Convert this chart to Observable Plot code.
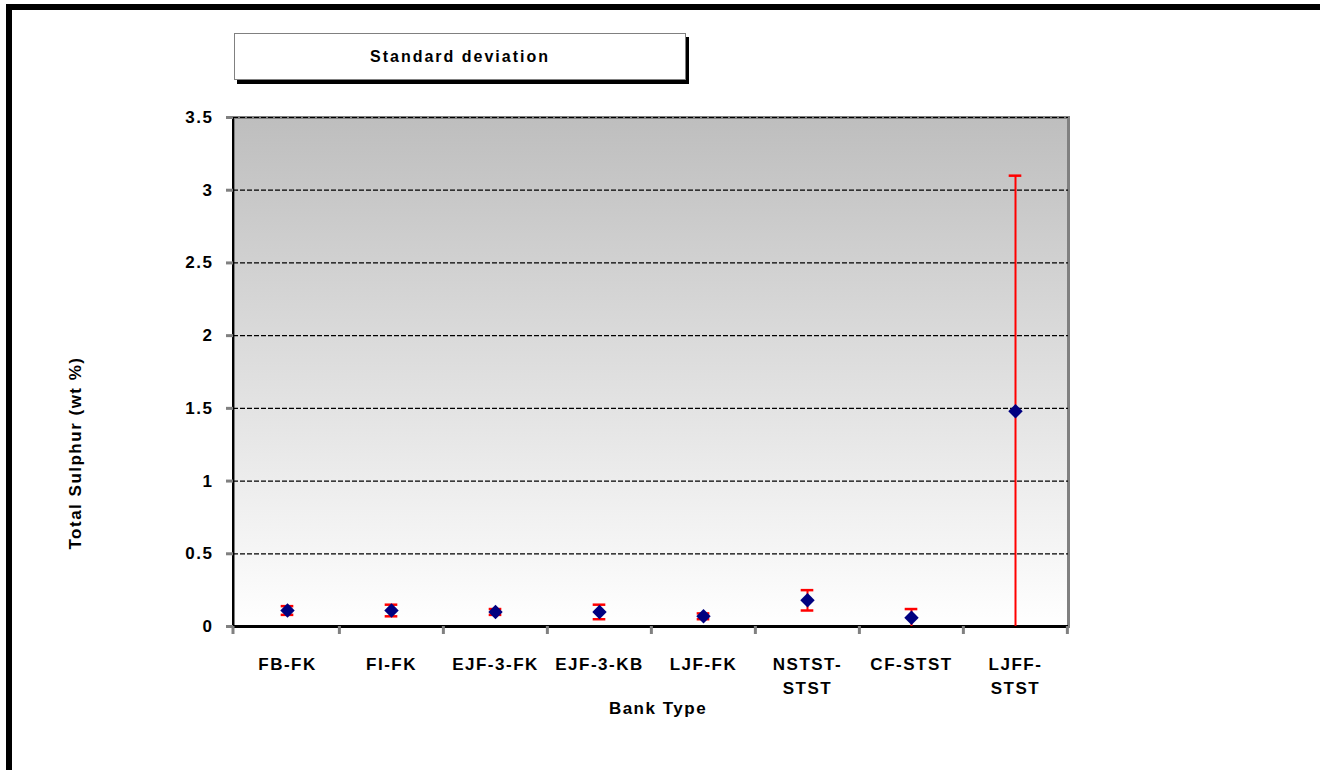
<!DOCTYPE html>
<html>
<head>
<meta charset="utf-8">
<script src="https://cdn.jsdelivr.net/npm/d3@7"></script>
<script src="https://cdn.jsdelivr.net/npm/@observablehq/plot@0.6"></script>
<style>
  html, body { margin: 0; padding: 0; background: #fff; overflow: hidden; width: 1320px; height: 770px; }
  #wrap { position: relative; width: 1320px; height: 770px; font-family: "Liberation Sans", Arial, sans-serif; }
  #border { position: absolute; left: 6px; top: 4px; width: 1340px; height: 800px; border: 6px solid #000; box-sizing: border-box; pointer-events: none; }
  #title { position: absolute; left: 234px; top: 33px; width: 450px; height: 45px; background: #fff; border: 1px solid #808080;
           box-shadow: 3px 4px 0 #000; font-weight: bold; font-size: 16px; letter-spacing: 2px; display: flex; align-items: center; justify-content: center; color: #000; }
  #chart { position: absolute; left: 0; top: 0; }
  #chart svg text { letter-spacing: 1.5px; }
</style>
</head>
<body>
<div id="wrap">
  <div id="chart"></div>
  <div id="title">Standard deviation</div>
  <div id="border"></div>
</div>
<script>
const categories = ["FB-FK", "FI-FK", "EJF-3-FK", "EJF-3-KB", "LJF-FK", "NSTST-STST", "CF-STST", "LJFF-STST"];
const tickLabels = ["FB-FK", "FI-FK", "EJF-3-FK", "EJF-3-KB", "LJF-FK", "NSTST-\nSTST", "CF-STST", "LJFF-\nSTST"];
const means = [0.11, 0.11, 0.10, 0.10, 0.07, 0.18, 0.06, 1.48];
const sds = [0.03, 0.04, 0.02, 0.05, 0.02, 0.07, 0.06, 1.62];
const yTicks = [0, 0.5, 1, 1.5, 2, 2.5, 3, 3.5];
const yTickLabels = ["0", "0.5", "1", "1.5", "2", "2.5", "3", "3.5"];
const gridValues = [0.5, 1, 1.5, 2, 2.5, 3, 3.5];

const data = categories.map((c, i) => ({
  cat: c, mean: means[i], sd: sds[i],
  lo: Math.max(0, means[i] - sds[i]), hi: means[i] + sds[i]
}));
const labelOf = Object.fromEntries(categories.map((c, i) => [c, tickLabels[i]]));
const yLabelOf = new Map(yTicks.map((t, i) => [t, yTickLabels[i]]));

const W = 1320, H = 770;
const mL = 233, mR = W - 1068, mT = 117, mB = H - 626;
const bw = (W - mL - mR) / categories.length;
const capInset = (bw - 13) / 2;

// render-function mark: left axis line and bottom category separators
function axisLines(index, scales, values, dim) {
  const g = d3.create("svg:g");
  const x0 = dim.marginLeft, y0 = dim.height - dim.marginBottom, yT = dim.marginTop;
  g.append("line").attr("x1", x0).attr("x2", x0).attr("y1", yT).attr("y2", y0 + 1)
    .attr("stroke", "#000").attr("stroke-width", 2);
  for (const c of categories) {
    const xb = scales.x(c) + bw;
    g.append("line").attr("x1", xb).attr("x2", xb).attr("y1", y0).attr("y2", y0 + 8)
      .attr("stroke", "#808080").attr("stroke-width", 3);
  }
  g.append("line").attr("x1", x0).attr("x2", x0).attr("y1", y0).attr("y2", y0 + 8)
      .attr("stroke", "#808080").attr("stroke-width", 3);
  return g.node();
}

const chart = Plot.plot({
  width: W, height: H,
  marginLeft: mL, marginRight: mR, marginTop: mT, marginBottom: mB,
  style: { background: "transparent", fontFamily: "'Liberation Sans', Arial, sans-serif", color: "#000" },
  x: { type: "band", domain: categories, padding: 0, label: null },
  y: { domain: [0, 3.5], label: null },
  marks: [
    Plot.frame({ fill: "url(#bgGrad)", stroke: "#808080", strokeWidth: 3 }),
    Plot.ruleY(gridValues, { stroke: "#000", strokeWidth: 1.2, strokeDasharray: "5,2" }),
    Plot.ruleY([0], { stroke: "#000", strokeWidth: 3 }),
    axisLines,
    Plot.axisY({ ticks: yTicks, tickSize: 7, tickPadding: 13, stroke: "#808080", strokeWidth: 3,
      tickFormat: d => yLabelOf.get(d), fontSize: 17, fontWeight: "bold", label: null }),
    Plot.axisX({ tickSize: 0, tickPadding: 27, tickFormat: d => labelOf[d], fontSize: 17, fontWeight: "bold",
      lineHeight: 1.4, label: null }),
    Plot.ruleX(data, { x: "cat", y1: "lo", y2: "hi", stroke: "#ff0000", strokeWidth: 2 }),
    Plot.tickY(data, { x: "cat", y: "hi", stroke: "#ff0000", strokeWidth: 2.5, insetLeft: capInset, insetRight: capInset }),
    Plot.tickY(data.filter(d => d.mean - d.sd > 0), { x: "cat", y: "lo", stroke: "#ff0000", strokeWidth: 2.5, insetLeft: capInset, insetRight: capInset }),
    Plot.dot(data, { x: "cat", y: "mean", symbol: "diamond2", r: 6.5, fill: "#000080", stroke: "none" }),
    Plot.text(["Total Sulphur (wt %)"], { frameAnchor: "left", textAnchor: "middle", dx: -158, dy: 81, rotate: -90, fontSize: 17, fontWeight: "bold" }),
    Plot.text(["Bank Type"], { frameAnchor: "bottom", dx: 7, dy: 87, fontSize: 17, fontWeight: "bold" })
  ]
});

const svg = d3.select(chart);
const defs = svg.insert("defs", ":first-child");
const grad = defs.append("linearGradient").attr("id", "bgGrad").attr("x1", 0).attr("x2", 0).attr("y1", 0).attr("y2", 1);
grad.append("stop").attr("offset", "0%").attr("stop-color", "#bebebe");
grad.append("stop").attr("offset", "100%").attr("stop-color", "#ffffff");

document.getElementById("chart").appendChild(chart);
</script>
</body>
</html>
